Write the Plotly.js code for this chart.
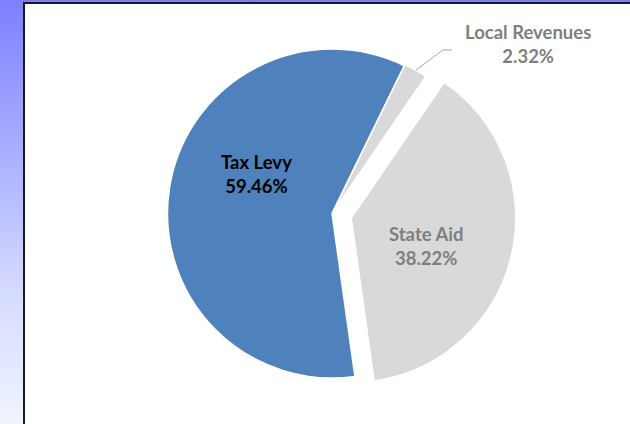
<!DOCTYPE html>
<html>
<head>
<meta charset="utf-8">
<script src="https://cdn.plot.ly/plotly-3.0.1.min.js"></script>
<style>
  html, body { margin: 0; padding: 0; }
  body {
    width: 630px; height: 424px; overflow: hidden; position: relative;
    background: linear-gradient(to bottom, #7C80FF 0%, #A9AEFF 35%, #D6DCFF 70%, #F0F4FF 100%);
  }
  #box {
    position: absolute; left: 23px; top: 2px; width: 607px; height: 422px;
    background: #ffffff; border-left: 2px solid #1a1a1a; border-top: 2px solid #1a1a1a;
    box-sizing: border-box;
  }
  #chart { position: absolute; left: 0; top: 0; width: 630px; height: 424px; }
</style>
</head>
<body>
<div id="box"></div>
<div id="chart"></div>
<script>
const categories = ["Tax Levy", "Local Revenues", "State Aid"];
const shares = [59.46, 2.32, 38.22];
const sliceColors = ["#4F81BD", "#D9D9D9", "#D9D9D9"];
const labelColors = ["#000000", "#7F7F7F", "#7F7F7F"];

const W = 630, H = 424;
const px = (x) => x / W;
const py = (y) => 1 - y / H;

// pie geometry (page pixels)
const cx = 332, cy = 213.5, r = 164.5, maxPull = 0.12;
const half = r * (1 + maxPull);

const labelPos = [[256, 174], [528, 44], [426, 246]];

const annotations = categories.map((c, i) => ({
  xref: "paper", yref: "paper",
  x: px(labelPos[i][0]), y: py(labelPos[i][1]),
  xanchor: "center", yanchor: "middle",
  showarrow: false,
  text: "<b>" + c + "<br>" + shares[i].toFixed(2) + "%</b>",
  font: { family: "Lato, 'Open Sans', sans-serif", size: 18.5, color: labelColors[i] },
  align: "center"
}));

const data = [{
  type: "pie",
  labels: categories,
  values: shares,
  sort: false,
  direction: "clockwise",
  rotation: 172,
  pull: [0, 0.01, maxPull],
  marker: { colors: sliceColors, line: { color: "#ffffff", width: 1.5 } },
  textinfo: "none",
  hoverinfo: "label+percent",
  showlegend: false,
  domain: {
    x: [px(cx - half), px(cx + half)],
    y: [py(cy + half), py(cy - half)]
  }
}];

const layout = {
  width: W, height: H,
  margin: { l: 0, r: 0, t: 0, b: 0 },
  paper_bgcolor: "rgba(0,0,0,0)",
  plot_bgcolor: "rgba(0,0,0,0)",
  showlegend: false,
  annotations: annotations,
  shapes: [{
    type: "path", xref: "paper", yref: "paper",
    path: "M " + px(416) + "," + py(70) + " L " + px(443) + "," + py(50) + " L " + px(452) + "," + py(50),
    line: { color: "#A6A6A6", width: 1 }
  }]
};

Plotly.newPlot("chart", data, layout, { displayModeBar: false, staticPlot: true });
</script>
</body>
</html>
